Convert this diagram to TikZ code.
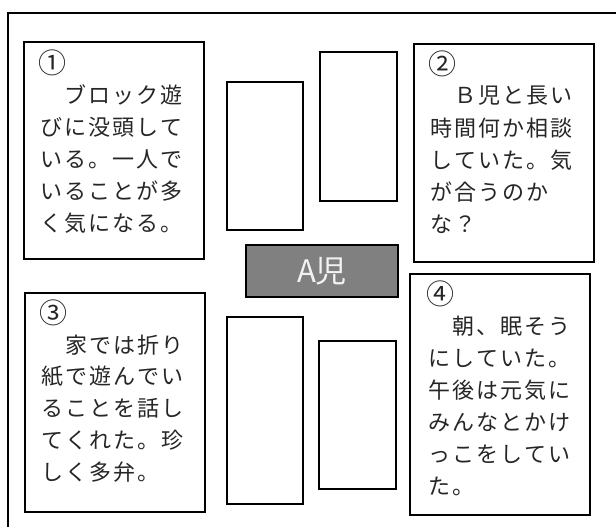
\documentclass[tikz,border=0pt]{standalone}
\usepackage{fontspec}
\newfontfamily\jp{Noto Sans CJK JP}
\def\gridi#1{\ifx#1\relax\else\makebox[24pt][c]{#1}\expandafter\gridi\fi}
\def\grid#1{\expandafter\gridi#1\relax}
\tikzset{
  frame/.style={draw=black, line width=1.5pt},
  memo/.style={draw=black, line width=1.3pt, fill=white},
  blank/.style={draw=black, line width=1.3pt, fill=white},
  child/.style={draw=black, line width=1.5pt, fill=black!50, text=white!95!black,
    font=\jp\fontsize{31}{31}\selectfont, inner sep=0pt},
  jline/.style={anchor=west, inner sep=0pt, text=black!85,
    font=\jp\fontsize{22}{22}\selectfont},
  numline/.style={anchor=west, inner sep=0pt, text=black!85,
    font=\jp\fontsize{28}{28}\selectfont},
}
\begin{document}
\begin{tikzpicture}[x=1pt, y=-1pt]
\useasboundingbox (0,0) rectangle (616,527);
\clip (0,0) rectangle (616,527);
\fill[white] (0,0) rectangle (616,527);
\draw[frame] (8,13) rectangle (640,560);
% memo boxes
\draw[memo] (24,42) rectangle (204,259);
\draw[memo] (414,44) rectangle (594,262);
\draw[memo] (25,293) rectangle (205,512);
\draw[memo] (410,274) rectangle (590,515);
% blank rectangles
\draw[blank] (227,82) rectangle (303,230);
\draw[blank] (320,52) rectangle (397,201);
\draw[blank] (227,317) rectangle (303,504);
\draw[blank] (319,341) rectangle (396,489);
% child box
\node[child, minimum width=152pt, minimum height=52pt] (ac) at (322,271) {A児};
% numbers
\node[numline] (na) at (38,63) {①};
\node[numline] (nb) at (428,64) {②};
\node[numline] (nc) at (39,313) {③};
\node[numline] (nd) at (426,294) {④};
% texts
\foreach \t [count=\i] in {　ブロック遊,びに没頭して,いる。一人で,いることが多,く気になる。}
  \node[jline] (ta\i) at (39,{63+32*\i}) {\grid{\t}};
\foreach \t [count=\i] in {　Ｂ児と長い,時間何か相談,していた。気,が合うのか,な？}
  \node[jline] (tb\i) at (429,{64+32*\i}) {\grid{\t}};
\foreach \t [count=\i] in {　家では折り,紙で遊んでい,ることを話し,てくれた。珍,しく多弁。}
  \node[jline] (tc\i) at (40,{313+31.8*\i}) {\grid{\t}};
\foreach \t [count=\i] in {　朝、眠そう,にしていた。,午後は元気に,みんなとかけ,っこをしてい,た。}
  \node[jline] (td\i) at (427,{294+32*\i}) {\grid{\t}};
\end{tikzpicture}
\end{document}
